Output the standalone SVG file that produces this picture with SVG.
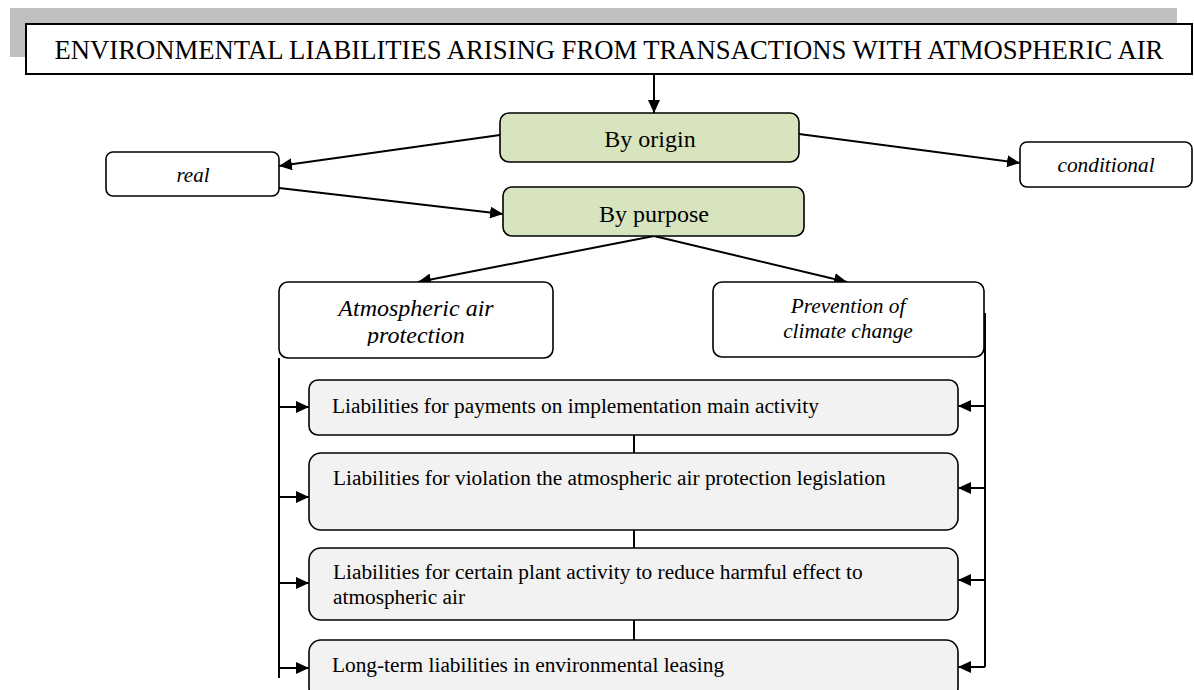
<svg xmlns="http://www.w3.org/2000/svg" width="1194" height="690" viewBox="0 0 1194 690">
<style>
text{font-family:"Liberation Serif","Times New Roman",serif;fill:#000}
.box{stroke:#000;stroke-width:1.6}
.green{fill:#d7e4bd}
.white{fill:#fff}
.grey{fill:#f2f2f2}
.it{font-style:italic}
.c{text-anchor:middle}
.con{stroke:#000;stroke-width:2;fill:none}
.arr{marker-end:url(#ah)}
</style>
<defs>
<marker id="ah" markerUnits="userSpaceOnUse" markerWidth="14" markerHeight="12" refX="13" refY="6" orient="auto" viewBox="0 0 14 12">
<path d="M0,0 L13,6 L0,12 z" fill="#000"/>
</marker>
<clipPath id="clipAtm"><rect x="280" y="283" width="272" height="63"/></clipPath>
</defs>
<rect x="10" y="8" width="1167" height="49" fill="#bfbfbf"/>
<g id="title">
<rect x="26" y="24" width="1166" height="50" fill="#fff" stroke="#000" stroke-width="2"/>
<text x="609" y="59" class="c" font-size="26.67">ENVIRONMENTAL LIABILITIES ARISING FROM TRANSACTIONS WITH ATMOSPHERIC AIR</text>
</g>
<g id="connectors">
<line class="con arr" x1="654" y1="74" x2="654" y2="113"/>
<line class="con arr" x1="500" y1="135" x2="279" y2="166"/>
<line class="con arr" x1="799" y1="134" x2="1020" y2="163"/>
<line class="con arr" x1="279" y1="188" x2="503" y2="214"/>
<line class="con arr" x1="654" y1="236" x2="418" y2="282"/>
<line class="con arr" x1="654" y1="236" x2="847" y2="282"/>
<line class="con" x1="279" y1="358" x2="279" y2="678"/>
<line class="con arr" x1="279" y1="407" x2="309" y2="407"/>
<line class="con arr" x1="279" y1="497" x2="309" y2="497"/>
<line class="con arr" x1="279" y1="583" x2="309" y2="583"/>
<line class="con arr" x1="279" y1="668" x2="309" y2="668"/>
<line class="con" x1="985" y1="313" x2="985" y2="667"/>
<line class="con arr" x1="985" y1="406" x2="958" y2="406"/>
<line class="con arr" x1="985" y1="488" x2="958" y2="488"/>
<line class="con arr" x1="985" y1="580" x2="958" y2="580"/>
<line class="con arr" x1="985" y1="667" x2="958" y2="667"/>
<line class="con" x1="634" y1="435" x2="634" y2="453" stroke-width="1.6"/>
<line class="con" x1="634" y1="530" x2="634" y2="548" stroke-width="1.6"/>
<line class="con" x1="634" y1="620" x2="634" y2="640" stroke-width="1.6"/>
</g>
<g id="byOrigin">
<rect class="box green" x="500" y="113" width="299" height="49" rx="9"/>
<text x="650" y="147" class="c" font-size="24">By origin</text>
</g>
<g id="real">
<rect class="box white" x="106" y="152" width="173" height="44" rx="7"/>
<text x="193" y="182" class="c it" font-size="21">real</text>
</g>
<g id="conditional">
<rect class="box white" x="1020" y="142" width="172" height="45" rx="7"/>
<text x="1106" y="172" class="c it" font-size="21.33">conditional</text>
</g>
<g id="byPurpose">
<rect class="box green" x="503" y="187" width="301" height="49" rx="9"/>
<text x="654" y="222" class="c" font-size="24">By purpose</text>
</g>
<g id="atmProtection">
<rect class="box white" x="279" y="282" width="274" height="76" rx="9"/>
<g clip-path="url(#clipAtm)">
<text x="416" y="316" class="c it" font-size="24">Atmospheric air</text>
<text x="416" y="343" class="c it" font-size="24">protection</text>
</g>
</g>
<g id="climate">
<rect class="box white" x="713" y="282" width="271" height="75" rx="9"/>
<text x="848" y="313" class="c it" font-size="21.33">Prevention of</text>
<text x="848" y="338" class="c it" font-size="21.33">climate change</text>
</g>
<g id="liab1">
<rect class="box grey" x="309" y="380" width="649" height="55" rx="9"/>
<text x="332" y="413" font-size="21.33">Liabilities for payments on implementation main activity</text>
</g>
<g id="liab2">
<rect class="box grey" x="309" y="453" width="649" height="77" rx="12"/>
<text x="333" y="485" font-size="21.33">Liabilities for violation the atmospheric air protection legislation</text>
</g>
<g id="liab3">
<rect class="box grey" x="309" y="548" width="649" height="72" rx="12"/>
<text x="333" y="579" font-size="21.33">Liabilities for certain plant activity to reduce harmful effect to</text>
<text x="333" y="604" font-size="21.33">atmospheric air</text>
</g>
<g id="liab4">
<rect class="box grey" x="309" y="640" width="649" height="60" rx="12"/>
<text x="332" y="672" font-size="21.33">Long-term liabilities in environmental leasing</text>
</g>
</svg>
